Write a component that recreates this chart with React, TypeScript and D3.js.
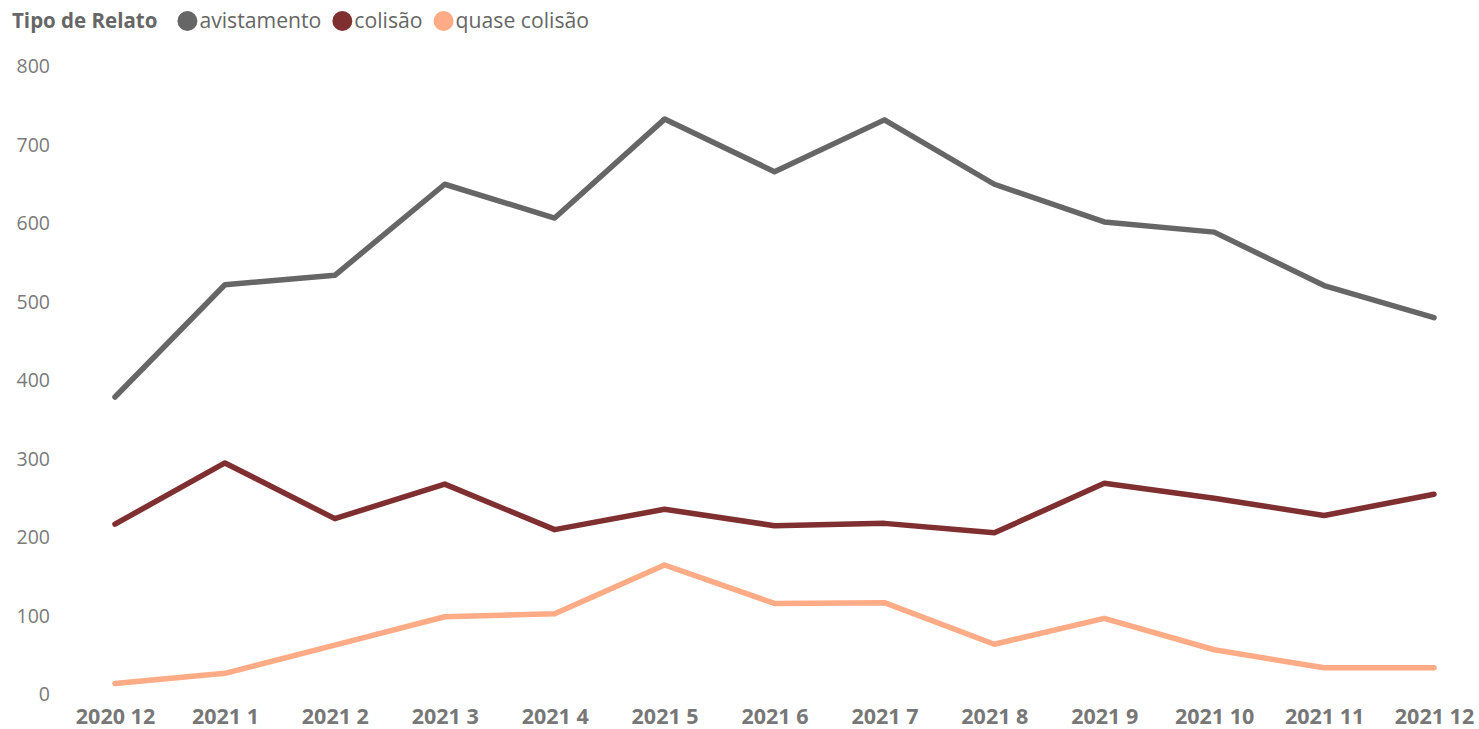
import React, { useEffect, useRef } from 'react';
import * as d3 from 'd3';

const months = [
  '2020 12', '2021 1', '2021 2', '2021 3', '2021 4', '2021 5', '2021 6',
  '2021 7', '2021 8', '2021 9', '2021 10', '2021 11', '2021 12',
];

const avistamento = [379, 522, 534, 650, 607, 733, 666, 732, 650, 602, 589, 521, 480];
const colisao = [217, 295, 224, 268, 210, 236, 215, 218, 206, 269, 250, 228, 255];
const quaseColisao = [14, 27, 63, 99, 103, 165, 116, 117, 64, 97, 57, 34, 34];

const yTicks = [0, 100, 200, 300, 400, 500, 600, 700, 800];

const seriesNames = ['avistamento', 'colisão', 'quase colisão'];
const seriesColors = ['#666666', '#7f2f2f', '#ffab86'];

const WIDTH = 1479;
const HEIGHT = 729;
const FONT = '"Open Sans", "Noto Sans", sans-serif';

export default function App() {
  const svgRef = useRef<SVGSVGElement>(null);

  useEffect(() => {
    document.body.style.margin = '0';
    if (!svgRef.current) return;

    const svg = d3.select(svgRef.current);
    svg.selectAll('*').remove();

    const x = d3.scalePoint<string>()
      .domain(months)
      .range([115, 1434]);

    const y = d3.scaleLinear()
      .domain([0, 800])
      .range([694.5, 66.5]);

    // y axis labels (no line, no gridlines)
    const yAxis = svg.append('g')
      .attr('transform', 'translate(50,0)')
      .call(d3.axisLeft(y).tickValues(yTicks).tickSize(0).tickPadding(0));
    yAxis.select('.domain').remove();
    yAxis.selectAll('text')
      .attr('fill', '#7a7a7a')
      .attr('font-size', 19.5)
      .attr('font-family', FONT);

    // x axis labels
    const xAxis = svg.append('g')
      .attr('transform', 'translate(0,709)')
      .call(d3.axisBottom(x).tickSize(0).tickPadding(0));
    xAxis.select('.domain').remove();
    xAxis.selectAll('text')
      .attr('fill', '#777777')
      .attr('font-size', 21.5)
      .attr('font-weight', 'bold')
      .attr('font-family', FONT);

    // lines
    const allSeries = [avistamento, colisao, quaseColisao];
    const line = d3.line<number>()
      .x((_, i) => x(months[i]) as number)
      .y(d => y(d));

    allSeries.forEach((values, i) => {
      svg.append('path')
        .datum(values)
        .attr('d', line)
        .attr('fill', 'none')
        .attr('stroke', seriesColors[i])
        .attr('stroke-width', 5.5)
        .attr('stroke-linejoin', 'round')
        .attr('stroke-linecap', 'round');
    });

    // legend
    const legend = svg.append('g').attr('font-family', FONT);
    const title = legend.append('text')
      .attr('x', 12)
      .attr('y', 28)
      .attr('fill', '#666666')
      .attr('font-size', 20.5)
      .attr('font-weight', 'bold')
      .text('Tipo de Relato');

    let cursor = 12 + (title.node() as SVGTextElement).getComputedTextLength() + 20;
    seriesNames.forEach((name, i) => {
      legend.append('circle')
        .attr('cx', cursor + 10)
        .attr('cy', 21)
        .attr('r', 10)
        .attr('fill', seriesColors[i]);
      const t = legend.append('text')
        .attr('x', cursor + 22)
        .attr('y', 28)
        .attr('fill', '#666666')
        .attr('font-size', 21.2)
        .text(name);
      cursor += 22 + (t.node() as SVGTextElement).getComputedTextLength() + 11;
    });
  }, []);

  return (
    <svg
      ref={svgRef}
      width={WIDTH}
      height={HEIGHT}
      style={{ display: 'block', background: '#ffffff' }}
    />
  );
}
